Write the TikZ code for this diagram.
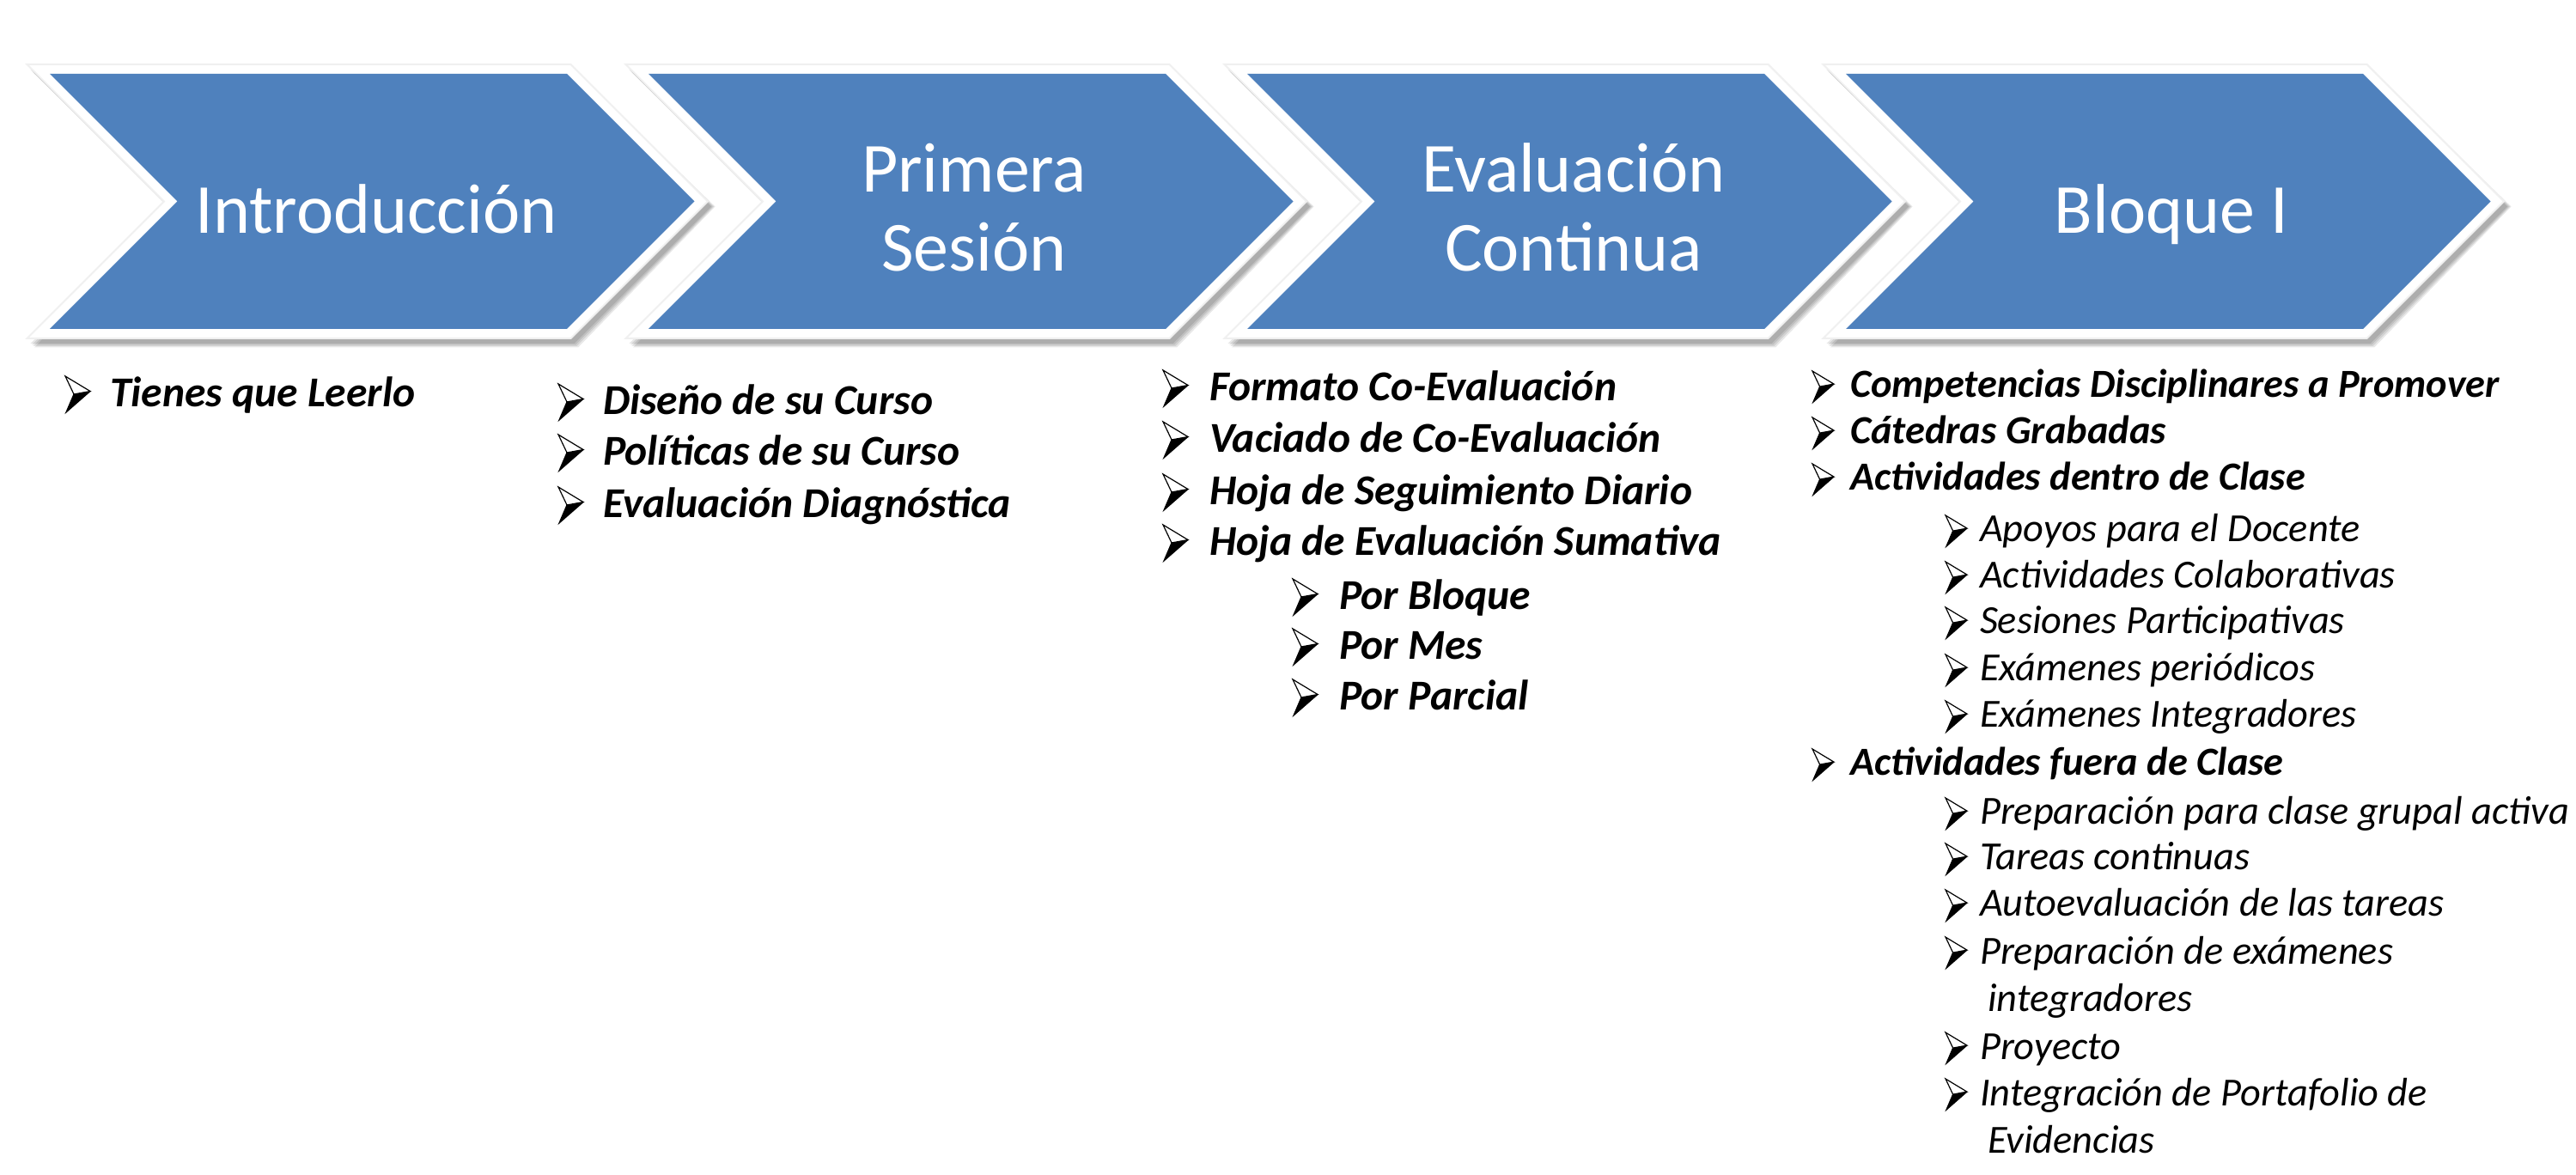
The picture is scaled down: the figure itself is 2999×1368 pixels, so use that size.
\documentclass[tikz,border=0pt]{standalone}
\usepackage{fontspec}
\setmainfont{Carlito}
\definecolor{chevblue}{RGB}{79,129,189}
\newcommand\chevshape[2]{(#1-2.414*#2,86-#2) -- (#1+602+0.414*#2,86-#2) -- (#1+750.5+1.414*#2,234.5) -- (#1+602+0.414*#2,383+#2) -- (#1-2.414*#2,383+#2) -- (#1+148.5-1.414*#2,234.5) -- cycle}
\tikzset{
  chevfill/.style={fill=chevblue},
  chevrim/.style={fill=white},
  chevshadow/.style={fill=black, fill opacity=0.09},
  title/.style={text=white, inner sep=0pt, anchor=base, font=\fontsize{23.3}{26}\selectfont},
  itm/.style={anchor=base west, inner sep=0pt, outer sep=0pt},
  bi/.style={itm, font=\fontsize{14.1}{16}\selectfont\bfseries\itshape},
  bis/.style={itm, font=\fontsize{13.2}{15}\selectfont\bfseries\itshape},
  ri/.style={itm, font=\fontsize{13.2}{15}\selectfont\itshape},
  abul/.pic={
    \fill[black] (0.2,-0.3) -- (0.58,-0.37) -- (0.02,0.12) -- cycle;
    \draw[black, fill=white, line width=0.12mm, line join=miter] (0,-0.72) -- (0.58,-0.37) -- (0.2,-0.3) -- cycle;
    \draw[black, line width=0.12mm, line join=miter] (0.58,-0.37) -- (0.02,0.12) -- (0.2,-0.3);
  },
  bigb/.style={scale=50},
  smallb/.style={scale=43},
}
\begin{document}
\begin{tikzpicture}[x=0.1mm,y=-0.1mm]
\useasboundingbox (0,0) rectangle (2999,1368);
\fill[white] (0,0) rectangle (2999,1368);
% chevrons
\foreach \L in {58,755,1452,2149}{
  \foreach \k in {0,1,2,3}{
    \fill[chevshadow, shift={(4,6)}] \chevshape{\L}{11+1.5*\k};
  }
  \fill[chevrim] \chevshape{\L}{11};
  \draw[black!6, line width=0.2mm] \chevshape{\L}{11};
  \fill[chevfill] \chevshape{\L}{0};
}
% titles
\node[title] (t1) at (438,272) {Introducción};
\node[title] (t2a) at (1134,224) {Primera};
\node[title] (t2b) at (1134,316) {Sesión};
\node[title] (t3a) at (1832,224) {Evaluación};
\node[title] (t3b) at (1832,316) {Continua};
\node[title] (t4) at (2528,272) {Bloque I};
% bullets, columns 1-3
\foreach \bx/\by in {76/474, 650/483, 650/542, 650/603, 1354/467, 1354/527, 1354/588, 1354/647, 1505/710, 1505/768, 1505/827}{
  \pic[bigb] at (\bx,\by) {abul};
}
% bullets, column 4
\foreach \bx/\by in {2110/463, 2110/517, 2110/571, 2265/631, 2265/685, 2265/738, 2265/793, 2265/847, 2110/903, 2265/960, 2265/1013, 2265/1067, 2265/1122, 2265/1233, 2265/1287}{
  \pic[smallb] at (\bx,\by) {abul};
}
% column 1
\node[bi] (c1a) at (128,474) {Tienes que Leerlo};
% column 2
\node[bi] (c2a) at (702,483) {Diseño de su Curso};
\node[bi] (c2b) at (702,542) {Políticas de su Curso};
\node[bi] (c2c) at (702,603) {Evaluación Diagnóstica};
% column 3
\node[bi] (c3a) at (1408,467) {Formato Co-Evaluación};
\node[bi] (c3b) at (1408,527) {Vaciado de Co-Evaluación};
\node[bi] (c3c) at (1408,588) {Hoja de Seguimiento Diario};
\node[bi] (c3d) at (1408,647) {Hoja de Evaluación Sumativa};
\node[bi] (c3e) at (1559,710) {Por Bloque};
\node[bi] (c3f) at (1559,768) {Por Mes};
\node[bi] (c3g) at (1559,827) {Por Parcial};
% column 4
\node[bis] (c4a) at (2154,463) {Competencias Disciplinares a Promover};
\node[bis] (c4b) at (2154,517) {Cátedras Grabadas};
\node[bis] (c4c) at (2154,571) {Actividades dentro de Clase};
\node[ri] (c4d) at (2305,631) {Apoyos para el Docente};
\node[ri] (c4e) at (2305,685) {Actividades Colaborativas};
\node[ri] (c4f) at (2305,738) {Sesiones Participativas};
\node[ri] (c4g) at (2305,793) {Exámenes periódicos};
\node[ri] (c4h) at (2305,847) {Exámenes Integradores};
\node[bis] (c4i) at (2154,903) {Actividades fuera de Clase};
\node[ri] (c4j) at (2305,960) {Preparación para clase grupal activa};
\node[ri] (c4k) at (2305,1013) {Tareas continuas};
\node[ri] (c4l) at (2305,1067) {Autoevaluación de las tareas};
\node[ri] (c4m) at (2305,1122) {Preparación de exámenes};
\node[ri] (c4m2) at (2314,1178) {integradores};
\node[ri] (c4n) at (2305,1233) {Proyecto};
\node[ri] (c4o) at (2305,1287) {Integración de Portafolio de};
\node[ri] (c4o2) at (2314,1342) {Evidencias};
\end{tikzpicture}
\end{document}
